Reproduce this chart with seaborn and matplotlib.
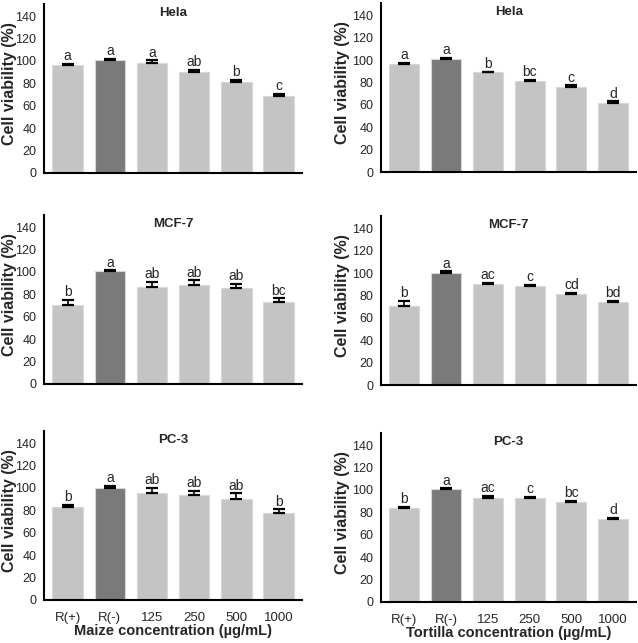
import numpy as np
import pandas as pd
import matplotlib
matplotlib.use('Agg')
import matplotlib.pyplot as plt
import seaborn as sns

sns.set_style('white')
plt.rcParams['font.family'] = ['Liberation Sans', 'DejaVu Sans']

# Data
groups = ['R(+)', 'R(-)', '125', '250', '500', '1000']
cell_lines = ['Hela', 'MCF-7', 'PC-3']

maize_means = {
    'Hela':  [96, 100.5, 98, 90.5, 81, 69],
    'MCF-7': [70.6, 100.5, 86.4, 88.5, 85.8, 72.7],
    'PC-3':  [83.2, 100.2, 95.1, 93.6, 89.7, 77.2],
}
maize_err = {
    'Hela':  [1.5, 1.5, 2.5, 1.5, 2.0, 1.5],
    'MCF-7': [4.5, 1.0, 5.0, 4.0, 3.5, 3.6],
    'PC-3':  [1.5, 1.5, 5.0, 4.0, 5.4, 3.6],
}
maize_letters = {
    'Hela':  ['a', 'a', 'a', 'ab', 'b', 'c'],
    'MCF-7': ['b', 'a', 'ab', 'ab', 'ab', 'bc'],
    'PC-3':  ['b', 'a', 'ab', 'ab', 'ab', 'b'],
}

tortilla_means = {
    'Hela':  [96, 100.5, 89, 81.5, 76, 61.5],
    'MCF-7': [70.9, 100.5, 90.3, 88.5, 81.8, 74.2],
    'PC-3':  [84, 100.5, 93.2, 92.6, 89.6, 74],
}
tortilla_err = {
    'Hela':  [1.5, 1.5, 0.5, 0.5, 1.5, 1.5],
    'MCF-7': [4.5, 1.0, 1.0, 1.2, 0.6, 1.0],
    'PC-3':  [1.0, 1.0, 1.5, 1.2, 0.6, 1.0],
}
tortilla_letters = {
    'Hela':  ['a', 'a', 'b', 'bc', 'c', 'd'],
    'MCF-7': ['b', 'a', 'ac', 'c', 'cd', 'bd'],
    'PC-3':  ['b', 'a', 'ac', 'c', 'bc', 'd'],
}

light = '#c4c4c4'
dark = '#7a7a7a'
palette = [light, dark, light, light, light, light]

fig = plt.figure(figsize=(6.38, 6.43), dpi=100)

col_left = [0.069, 0.597]
col_width = [0.404, 0.400]
ylab_x = [-0.105, -0.122]
row_bottom = [[0.731, 0.403, 0.067], [0.7325, 0.401, 0.0638]]
ax_h = 0.263

columns = [
    (maize_means, maize_err, maize_letters, 'Maize concentration (µg/mL)'),
    (tortilla_means, tortilla_err, tortilla_letters, 'Tortilla concentration (µg/mL)'),
]

for c, (means, errs, letters, xlab) in enumerate(columns):
    for r, line in enumerate(cell_lines):
        ax = fig.add_axes([col_left[c], row_bottom[c][r], col_width[c], ax_h])
        df = pd.DataFrame({'group': groups, 'viability': means[line]})
        sns.barplot(data=df, x='group', y='viability', hue='group',
                    palette=palette, legend=False, width=0.72,
                    edgecolor='#d8d8d8', linewidth=0.8, ax=ax)
        x = np.arange(len(groups))
        y = np.array(means[line])
        e = np.array(errs[line])
        ax.errorbar(x, y, yerr=[np.zeros_like(e), e], fmt='none',
                    ecolor='black', elinewidth=1.2, capsize=4.5, capthick=1.6)
        for xi, yi, ei, lt in zip(x, y, e, letters[line]):
            ax.text(xi, yi + ei + 0.6, lt, ha='center', va='bottom', fontsize=10)
        ax.text(2.5, 143, line, ha='center', va='center', fontsize=9.5, fontweight='bold')

        ax.set_ylim(0, 151)
        ax.set_xlim(-0.56, 5.55)
        ax.set_yticks(range(0, 141, 20))
        ax.tick_params(axis='both', direction='out', length=4, width=1.2,
                       labelsize=9, color='black', pad=1.5)
        ax.tick_params(axis='x', length=5)
        for s in ['top', 'right']:
            ax.spines[s].set_visible(False)
        for s in ['left', 'bottom']:
            ax.spines[s].set_color('black')
            ax.spines[s].set_linewidth(1.5)
        ax.set_ylabel('Cell viability (%)', fontsize=11.5, fontweight='bold')
        ax.yaxis.set_label_coords(ylab_x[c], 0.53)
        ax.set_xticks(x)
        if r == 2:
            ax.set_xticklabels(groups, fontsize=9.5)
            ax.tick_params(axis='x', pad=3.5)
            ax.set_xlabel(xlab, fontsize=10.5, fontweight='bold', labelpad=0.5)
        else:
            ax.set_xticklabels([])
            ax.set_xlabel('')

plt.savefig('out.png', dpi=100)
